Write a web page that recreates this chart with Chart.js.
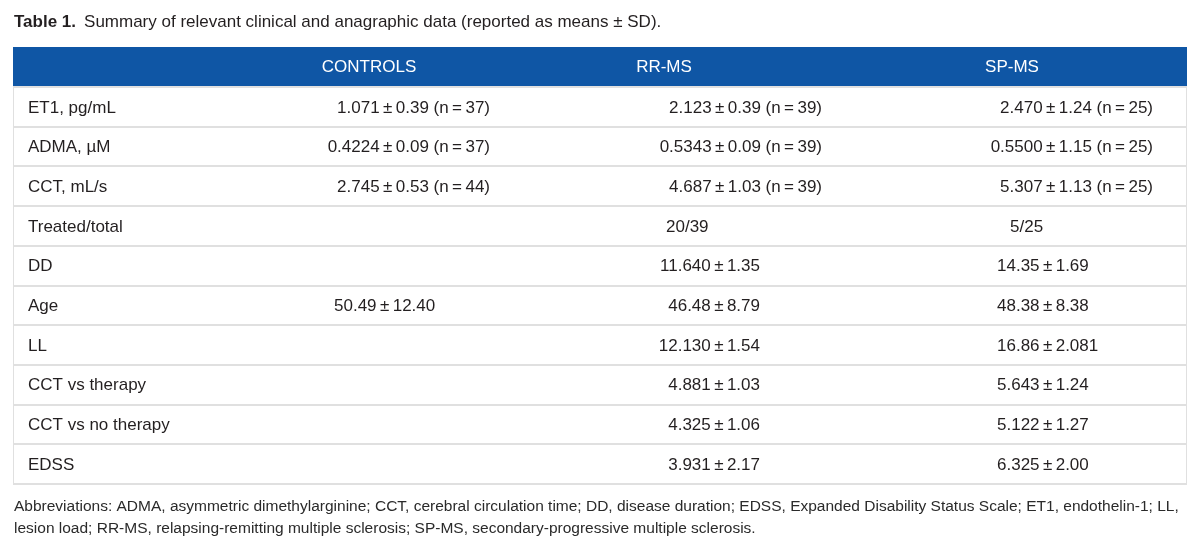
<!DOCTYPE html>
<html>
<head>
<meta charset="utf-8">
<script src="https://cdn.jsdelivr.net/npm/chart.js@4.4.0/dist/chart.umd.min.js"></script>
<style>
  html, body { margin: 0; padding: 0; background: #fff; }
  #wrap { width: 1200px; height: 550px; position: relative; }
</style>
</head>
<body>
<div id="wrap"><canvas id="chart"></canvas></div>
<script>
// table content, one array per column
const rowLabels = [
  "ET1, pg/mL", "ADMA, µM", "CCT, mL/s", "Treated/total", "DD",
  "Age", "LL", "CCT vs therapy", "CCT vs no therapy", "EDSS",
];
const groupLabels = ["CONTROLS", "RR-MS", "SP-MS"];
const controlsValues = [
  "1.071±0.39 (n=37)", "0.4224±0.09 (n=37)", "2.745±0.53 (n=44)", "", "",
  "50.49±12.40", "", "", "", "",
];
const rrmsValues = [
  "2.123±0.39 (n=39)", "0.5343±0.09 (n=39)", "4.687±1.03 (n=39)", "20/39", "11.640±1.35",
  "46.48±8.79", "12.130±1.54", "4.881±1.03", "4.325±1.06", "3.931±2.17",
];
const spmsValues = [
  "2.470±1.24 (n=25)", "0.5500±1.15 (n=25)", "5.307±1.13 (n=25)", "5/25", "14.35±1.69",
  "48.38±8.38", "16.86±2.081", "5.643±1.24", "5.122±1.27", "6.325±2.00",
];
const titleBold = "Table 1.";
const titleText = "Summary of relevant clinical and anagraphic data (reported as means ± SD).";
const footLines = [
  "Abbreviations: ADMA, asymmetric dimethylarginine; CCT, cerebral circulation time; DD, disease duration; EDSS, Expanded Disability Status Scale; ET1, endothelin-1; LL,",
  "lesion load; RR-MS, relapsing-remitting multiple sclerosis; SP-MS, secondary-progressive multiple sclerosis.",
];

const FONT = '"Liberation Sans", Arial, Helvetica, sans-serif';
const TEXT = "#231f20";
const HEAD_BG = "#0f56a5";
const LINE = "#e0e0e0";

// column anchors in table units (x scale 0..1174 = table width)
const columns = [
  { values: controlsValues, head: 356, nRight: 477, plain: 321, plainAlign: "left",  frac: 321 },
  { values: rrmsValues,     head: 651, nRight: 809, plain: 747, plainAlign: "right", frac: 653 },
  { values: spmsValues,     head: 999, nRight: 1140, plain: 984, plainAlign: "left", frac: 997 },
];

const fmt = (s) => s.replace(/±/g, "\u2009±\u2009").replace(/=/g, "\u2009=\u2009");

const tablePlugin = {
  id: "tableText",
  beforeDraw(chart) {
    const { ctx, chartArea: a, width } = chart;
    ctx.save();
    ctx.fillStyle = "#fff";
    ctx.fillRect(0, 0, width, chart.height);
    // header band
    ctx.fillStyle = HEAD_BG;
    ctx.fillRect(a.left, a.top - 40, a.right - a.left, 40);
    ctx.restore();
  },
  afterDraw(chart) {
    const { ctx, chartArea: a } = chart;
    const x = chart.scales.x, y = chart.scales.y;
    ctx.save();

    // side borders
    ctx.strokeStyle = LINE;
    ctx.lineWidth = 1;
    ctx.beginPath();
    ctx.moveTo(a.left + 0.5, a.top); ctx.lineTo(a.left + 0.5, a.bottom);
    ctx.moveTo(a.right - 0.5, a.top); ctx.lineTo(a.right - 0.5, a.bottom);
    ctx.stroke();

    // title
    ctx.textBaseline = "alphabetic";
    ctx.fillStyle = TEXT;
    ctx.font = "bold 17px " + FONT;
    ctx.textAlign = "left";
    ctx.fillText(titleBold, 14, 27);
    const bw = ctx.measureText(titleBold).width;
    ctx.font = "17px " + FONT;
    ctx.fillText(titleText, 14 + bw + 8, 27);

    // header text
    ctx.fillStyle = "#fff";
    ctx.textAlign = "center";
    ctx.textBaseline = "middle";
    groupLabels.forEach((g, i) => {
      ctx.fillText(g, x.getPixelForValue(columns[i].head), a.top - 20);
    });

    // row labels and cells
    ctx.fillStyle = TEXT;
    rowLabels.forEach((lab, r) => {
      const py = y.getPixelForValue(r) + 1;
      ctx.textAlign = "left";
      ctx.fillText(lab, x.getPixelForValue(15), py);
      columns.forEach((c) => {
        const v = c.values[r];
        if (!v) return;
        if (v.includes("(n")) {
          ctx.textAlign = "right";
          ctx.fillText(fmt(v), x.getPixelForValue(c.nRight), py);
        } else if (v.includes("/")) {
          ctx.textAlign = "left";
          ctx.fillText(v, x.getPixelForValue(c.frac), py);
        } else {
          ctx.textAlign = c.plainAlign;
          ctx.fillText(fmt(v), x.getPixelForValue(c.plain), py);
        }
      });
    });

    // footnote
    ctx.font = "15.5px " + FONT;
    ctx.fillStyle = "#2a2a2a";
    ctx.textAlign = "left";
    ctx.textBaseline = "alphabetic";
    ctx.fillText(footLines[0], 14, 511, 1172);
    ctx.fillText(footLines[1], 14, 533);
    ctx.restore();
  },
};

new Chart(document.getElementById("chart"), {
  type: "bar",
  data: { labels: rowLabels, datasets: [] },
  options: {
    responsive: true,
    maintainAspectRatio: false,
    animation: false,
    indexAxis: "y",
    layout: { padding: { top: 87, bottom: 66, left: 13, right: 13 } },
    plugins: { legend: { display: false }, tooltip: { enabled: false } },
    scales: {
      x: { type: "linear", min: 0, max: 1174, display: false },
      y: {
        type: "category",
        offset: true,
        ticks: { display: false },
        border: { display: false },
        grid: { offset: true, color: LINE, lineWidth: 2, drawTicks: false, tickLength: 0 },
      },
    },
  },
  plugins: [tablePlugin],
});
</script>
</body>
</html>
